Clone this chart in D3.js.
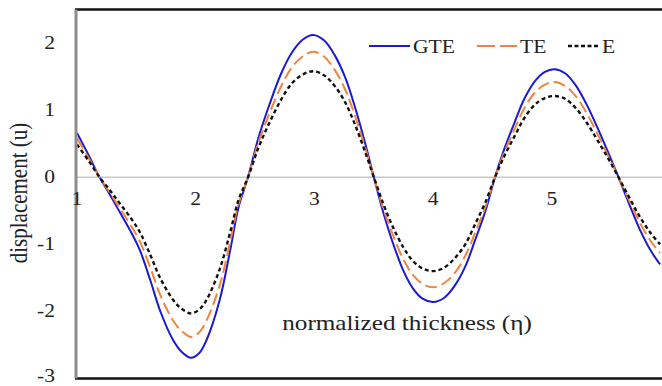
<!DOCTYPE html>
<html>
<head>
<meta charset="utf-8">
<script src="https://cdn.jsdelivr.net/npm/d3@7.9.0/dist/d3.min.js"></script>
<style>
  html, body { margin: 0; padding: 0; background: #fff; }
  svg { display: block; }
  text { font-family: "Liberation Serif", "Times New Roman", Times, serif; fill: #222; }
</style>
</head>
<body>
<svg id="chart" width="662" height="386"></svg>
<script>
// normalized thickness (eta) sample points
const eta = [1.0, 1.1, 1.19, 1.28, 1.36, 1.45, 1.53, 1.62, 1.70, 1.81, 1.88, 1.96, 2.03, 2.09, 2.20, 2.29, 2.36, 2.44,
  2.53, 2.62, 2.72, 2.81, 2.90, 2.99, 3.08, 3.17, 3.26, 3.34, 3.42, 3.50,
  3.58, 3.66, 3.75, 3.83, 3.91, 4.00, 4.09, 4.18, 4.27, 4.35, 4.44, 4.52,
  4.60, 4.69, 4.77, 4.86, 4.94, 5.02, 5.11, 5.20, 5.29, 5.38, 5.47, 5.56,
  5.65, 5.74, 5.83, 5.91];

const gte = [0.66, 0.32, 0, -0.27, -0.52, -0.80, -1.09, -1.55, -1.99, -2.43, -2.60, -2.69, -2.62, -2.43, -1.84, -1.09, -0.45, 0,
  0.60, 1.08, 1.55, 1.86, 2.05, 2.12, 2.04, 1.82, 1.48, 1.05, 0.55, 0,
  -0.53, -0.98, -1.40, -1.66, -1.81, -1.86, -1.80, -1.62, -1.33, -0.95, -0.50, 0,
  0.43, 0.84, 1.18, 1.44, 1.57, 1.61, 1.55, 1.37, 1.09, 0.75, 0.38, 0,
  -0.40, -0.78, -1.09, -1.30];

const te = [0.58, 0.28, 0, -0.24, -0.46, -0.71, -0.96, -1.36, -1.75, -2.14, -2.29, -2.38, -2.31, -2.14, -1.62, -0.96, -0.40, 0,
  0.53, 0.95, 1.36, 1.64, 1.80, 1.87, 1.80, 1.60, 1.30, 0.92, 0.48, 0,
  -0.47, -0.86, -1.23, -1.46, -1.59, -1.64, -1.58, -1.43, -1.17, -0.84, -0.44, 0,
  0.38, 0.74, 1.04, 1.27, 1.38, 1.42, 1.36, 1.21, 0.96, 0.66, 0.33, 0,
  -0.35, -0.68, -0.95, -1.13];

const e = [0.49, 0.24, 0, -0.20, -0.39, -0.60, -0.82, -1.17, -1.50, -1.83, -1.96, -2.03, -1.97, -1.83, -1.38, -0.82, -0.34, 0,
  0.45, 0.81, 1.16, 1.40, 1.53, 1.58, 1.52, 1.36, 1.11, 0.79, 0.41, 0,
  -0.40, -0.74, -1.05, -1.25, -1.36, -1.40, -1.35, -1.21, -1.00, -0.71, -0.37, 0,
  0.32, 0.63, 0.89, 1.09, 1.18, 1.21, 1.17, 1.03, 0.82, 0.56, 0.29, 0,
  -0.30, -0.59, -0.83, -1.00];

const xTicks = [1, 2, 3, 4, 5];
const yTicks = [-3, -2, -1, 0, 1, 2];

const series = [
  { name: 'GTE', values: gte, color: '#1a1ad6', dash: null, width: 2, legendDash: null },
  { name: 'TE', values: te, color: '#f0843c', dash: '12,5', width: 2, legendDash: '18,5' },
  { name: 'E', values: e, color: '#111', dash: '4,3', width: 2.4, legendDash: '4,2.5' }
];

const svg = d3.select('#chart');
const plotLeft = 77, plotRight = 662, plotTop = 9.5, plotBottom = 378.5;

const x = d3.scaleLinear().domain([1, 6]).range([plotLeft, plotLeft + 5 * 118.75]);
const y = d3.scaleLinear().domain([-3, 2.5]).range([plotBottom, plotTop]);

// clip to plot area
svg.append('defs').append('clipPath').attr('id', 'plot-clip')
  .append('rect').attr('x', plotLeft).attr('y', plotTop)
  .attr('width', plotRight - plotLeft).attr('height', plotBottom - plotTop);

// zero line
svg.append('line')
  .attr('x1', plotLeft).attr('x2', plotRight)
  .attr('y1', y(0)).attr('y2', y(0))
  .attr('stroke', '#c8c8c8').attr('stroke-width', 1.5);

// curves
const line = d3.line()
  .x((d) => x(d[0]))
  .y((d) => y(d[1]))
  .curve(d3.curveCatmullRom.alpha(0.5));

const g = svg.append('g').attr('clip-path', 'url(#plot-clip)');
series.forEach((s) => {
  g.append('path')
    .datum(eta.map((v, i) => [v, s.values[i]]))
    .attr('d', line)
    .attr('fill', 'none')
    .attr('stroke', s.color)
    .attr('stroke-width', s.width)
    .attr('stroke-dasharray', s.dash);
});

// frame: top & bottom black, left gray
svg.append('line').attr('x1', plotLeft - 2).attr('x2', plotRight).attr('y1', plotTop).attr('y2', plotTop)
  .attr('stroke', '#111').attr('stroke-width', 2.5);
svg.append('line').attr('x1', plotLeft - 2).attr('x2', plotRight).attr('y1', plotBottom).attr('y2', plotBottom)
  .attr('stroke', '#111').attr('stroke-width', 2.5);
svg.append('line').attr('x1', plotLeft - 1).attr('x2', plotLeft - 1).attr('y1', plotTop).attr('y2', plotBottom)
  .attr('stroke', '#8c8c8c').attr('stroke-width', 3);

// stretched text helper (the source image is wider than tall)
function label(tx, ty, str, size, anchor) {
  return svg.append('text')
    .attr('transform', `translate(${tx},${ty}) scale(1.2,1)`)
    .attr('text-anchor', anchor || 'middle')
    .attr('font-size', size)
    .text(str);
}

// x tick labels sit just under the zero line
xTicks.forEach((t) => label(x(t), 205, t, 18));

// y tick labels
yTicks.forEach((t) => label(55, Math.min(y(t) + 6, 382), t, 18, 'end'));

// axis titles
svg.append('text')
  .attr('transform', 'translate(27,193) rotate(-90) scale(1,1.2)')
  .attr('text-anchor', 'middle')
  .attr('font-size', 21)
  .text('displacement (u)');

label(407, 330, 'normalized thickness (η)', 21);

// legend
const legendItems = [
  { s: series[0], x0: 369, x1: 410, tx: 413 },
  { s: series[1], x0: 477, x1: 517, tx: 520 },
  { s: series[2], x0: 568, x1: 600, tx: 602 }
];
legendItems.forEach((it) => {
  svg.append('line')
    .attr('x1', it.x0).attr('x2', it.x1).attr('y1', 46).attr('y2', 46)
    .attr('stroke', it.s.color).attr('stroke-width', it.s.width)
    .attr('stroke-dasharray', it.s.legendDash);
  label(it.tx, 52.5, it.s.name, 18, 'start');
});
</script>
</body>
</html>
